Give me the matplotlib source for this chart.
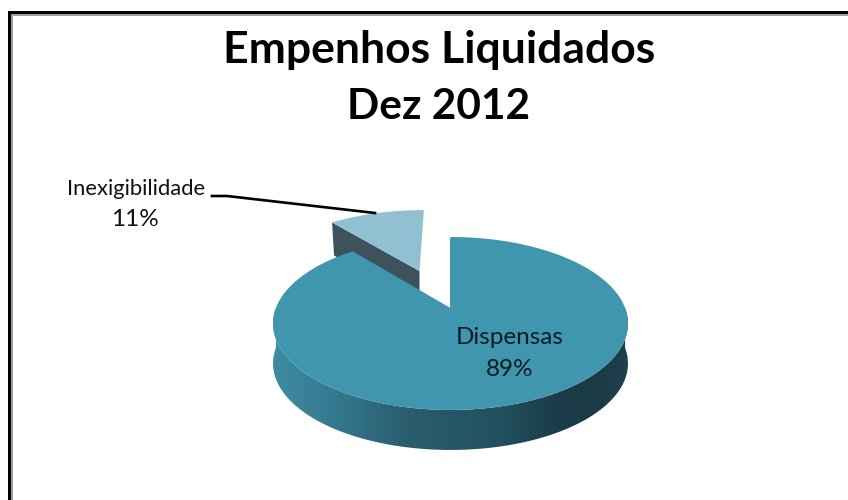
import numpy as np
import matplotlib
matplotlib.use("Agg")
import matplotlib.pyplot as plt
from matplotlib.colors import LinearSegmentedColormap
from matplotlib.patches import Polygon, Rectangle

labels = ["Dispensas", "Inexigibilidade"]
shares = [89, 11]
title_lines = ["Empenhos Liquidados", "Dez 2012"]

plt.rcParams["font.family"] = ["Lato", "DejaVu Sans"]

# pie placement on the canvas, in pixels
cx, cy = 450.5, 308
rx, ry = 174.6, 83.7
persp = 0.179
depth = 40
explode = 0.51


# tilted disc -> canvas, the far side gets squeezed by persp
def project(u, v):
    d = 1 + persp * v
    return cx + rx * u / d, cy - ry * v / d


def wedge(start, stop, off=(0, 0)):
    # angles are clockwise from 12 o'clock
    a = np.radians(np.linspace(start, stop, 200))
    u = np.concatenate([[0], np.sin(a)]) + off[0]
    v = np.concatenate([[0], np.cos(a)]) + off[1]
    return np.column_stack(project(u, v))


fig = plt.figure(figsize=(8.48, 5), dpi=100)
ax = fig.add_axes([0, 0, 1, 1])
ax.set_xlim(0, 848)
ax.set_ylim(500, 0)
ax.axis("off")

# double frame, only left and top fall inside the canvas
ax.add_patch(Rectangle((8, 11), 3, 489, color="black", lw=0))
ax.add_patch(Rectangle((8, 11), 840, 3, color="black", lw=0))
ax.add_patch(Rectangle((11, 14), 2, 486, color="#a0a0a0", lw=0))
ax.add_patch(Rectangle((11, 14), 837, 2, color="#a0a0a0", lw=0))

main_angle = 360 * shares[0] / sum(shares)

# pulled out slice first, the big one overlaps it
mid = np.radians((main_angle + 360) / 2)
off = (explode * np.sin(mid) - 0.02, explode * np.cos(mid))
small = wedge(main_angle, 360, off)
apex = small[0]
corner = small[1]
side = [apex, corner, corner + [2, 33], apex + [0, 33]]
ax.add_patch(Polygon(side, color="#3d525a", lw=0))
ax.add_patch(Polygon(small, color="#92c0d3", lw=0))

# outer wall of the big slice, shaded left to right
a = np.radians(np.linspace(90, 270, 300))
rx_pts, ry_pts = project(np.sin(a), np.cos(a))
rim = np.column_stack([rx_pts, ry_pts])
wall = np.vstack([rim, (rim + [0, depth])[::-1]])
shade = LinearSegmentedColormap.from_list("wall", [
    (0.0, "#3f8ca3"), (0.22, "#327389"), (0.36, "#2a5f70"),
    (0.64, "#23505f"), (0.80, "#1b3c48"), (0.92, "#1a3a46"), (1.0, "#1e414e"),
])
img = ax.imshow(np.linspace(0, 1, 256).reshape(1, -1), cmap=shade, aspect="auto",
                extent=[rim[:, 0].min(), rim[:, 0].max(), 460, 300], zorder=2)
img.set_clip_path(Polygon(wall, transform=ax.transData))
ax.set_xlim(0, 848)
ax.set_ylim(500, 0)

big = wedge(0, main_angle)
ax.add_patch(Polygon(big, color="#4096ae", lw=0, zorder=3))
ax.plot([449.5, 449.5], [238, 307], color="#3b7f94", lw=0.6, zorder=1)

# leader line for the small slice
ax.plot([212, 227, 375], [196, 196, 213], color="black", lw=1.9, zorder=4)

for line, y, size in zip(title_lines, [50, 107], [32, 30.5]):
    ax.text(439, y, line, ha="center", va="center", fontsize=size, fontweight="bold",
            color="black")

ax.text(136, 189, labels[1], ha="center", va="center", fontsize=15.8, color="#111111")
ax.text(135, 220, f"{shares[1]}%", ha="center", va="center", fontsize=17.5, color="#111111")
ax.text(510, 338, labels[0], ha="center", va="center", fontsize=17.5, color="#0c1c22", zorder=5)
ax.text(510, 369, f"{shares[0]}%", ha="center", va="center", fontsize=17.5, color="#0c1c22", zorder=5)

fig.savefig("out.png", dpi=100)
